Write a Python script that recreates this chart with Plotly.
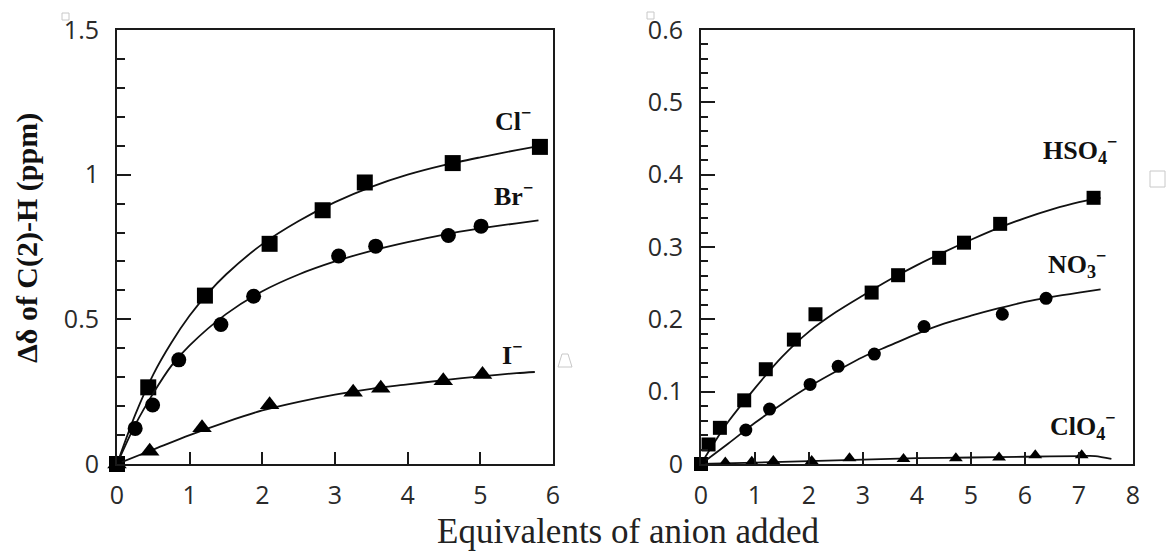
import plotly.graph_objects as go

W, H = 1166, 553

# ---------------- data: left panel (halides) ----------------
cl_x = [0, 0.43, 1.21, 2.10, 2.83, 3.41, 4.62, 5.82]
cl_y = [0, 0.265, 0.582, 0.761, 0.877, 0.973, 1.040, 1.096]
br_x = [0, 0.25, 0.49, 0.85, 1.43, 1.88, 3.05, 3.56, 4.56, 5.01]
br_y = [0, 0.123, 0.204, 0.360, 0.482, 0.580, 0.719, 0.753, 0.790, 0.822]
i_x = [0, 0.45, 1.17, 2.10, 3.25, 3.63, 4.49, 5.03]
i_y = [0, 0.044, 0.125, 0.205, 0.248, 0.262, 0.288, 0.309]

# fitted curves
cl_fit_x = [0, 0.25, 0.5, 0.75, 1.0, 1.25, 1.5, 2.0, 2.5, 3.0, 3.5, 4.0, 4.5, 5.0, 5.5, 5.8]
cl_fit_y = [0, 0.17, 0.31, 0.42, 0.513, 0.59, 0.655, 0.76, 0.84, 0.905, 0.958, 1.0, 1.033, 1.06, 1.085, 1.099]
br_fit_x = [0, 0.25, 0.5, 0.75, 1.0, 1.5, 2.0, 2.5, 3.0, 3.5, 4.0, 4.5, 5.0, 5.5, 5.8]
br_fit_y = [0, 0.135, 0.245, 0.34, 0.41, 0.518, 0.597, 0.655, 0.70, 0.737, 0.767, 0.793, 0.814, 0.832, 0.842]
i_fit_x = [0, 0.5, 1.0, 1.5, 2.0, 2.5, 3.0, 3.5, 4.0, 4.5, 5.0, 5.5, 5.75]
i_fit_y = [0, 0.05, 0.10, 0.145, 0.185, 0.215, 0.24, 0.26, 0.275, 0.29, 0.303, 0.314, 0.318]

# ---------------- data: right panel (oxoanions) ----------------
hso4_x = [0, 0.14, 0.35, 0.80, 1.20, 1.72, 2.12, 3.16, 3.65, 4.41, 4.87, 5.54, 7.27]
hso4_y = [0, 0.027, 0.050, 0.088, 0.131, 0.172, 0.207, 0.237, 0.261, 0.285, 0.306, 0.332, 0.368]
no3_x = [0, 0.83, 1.27, 2.02, 2.54, 3.21, 4.13, 5.58, 6.39]
no3_y = [0, 0.047, 0.076, 0.110, 0.135, 0.152, 0.190, 0.207, 0.229]
clo4_x = [0, 0.45, 0.94, 1.34, 2.05, 2.75, 3.75, 4.72, 5.52, 6.19, 7.05]
clo4_y = [0, 0.002, 0.003, 0.004, 0.004, 0.008, 0.007, 0.008, 0.009, 0.012, 0.012]

hso4_fit_x = [0, 0.25, 0.5, 1.0, 1.5, 2.0, 2.5, 3.0, 3.5, 4.0, 4.5, 5.0, 5.5, 6.0, 6.5, 7.0, 7.4]
hso4_fit_y = [0, 0.03, 0.058, 0.105, 0.148, 0.183, 0.21, 0.233, 0.255, 0.275, 0.293, 0.31, 0.326, 0.34, 0.352, 0.362, 0.368]
no3_fit_x = [0, 0.5, 1.0, 1.5, 2.0, 2.5, 3.0, 3.5, 4.0, 4.5, 5.0, 5.5, 6.0, 6.5, 7.0, 7.4]
no3_fit_y = [0, 0.028, 0.057, 0.083, 0.107, 0.128, 0.148, 0.164, 0.18, 0.194, 0.205, 0.215, 0.224, 0.231, 0.237, 0.2415]
clo4_fit_x = [0, 1, 2, 3, 4, 5, 6, 7, 7.3, 7.6]
clo4_fit_y = [0, 0.002, 0.004, 0.006, 0.008, 0.009, 0.010, 0.011, 0.011, 0.007]

left_yticks = [0, 0.5, 1, 1.5]
left_yticklabels = ["0", "0.5", "1", "1.5"]
right_yticks = [0, 0.1, 0.2, 0.3, 0.4, 0.5, 0.6]
right_yticklabels = ["0", "0.1", "0.2", "0.3", "0.4", "0.5", "0.6"]

labels_left = ["Cl<sup>−</sup>", "Br<sup>−</sup>", "I<sup>−</sup>"]
labels_right = ["HSO<sub>4</sub><sup>−</sup>", "NO<sub>3</sub><sup>−</sup>", "ClO<sub>4</sub><sup>−</sup>"]

x_title = "Equivalents of anion added"
y_title = "Δδ of C(2)-H (ppm)"

# ---------------- figure ----------------
fig = go.Figure()
LINE = dict(color="#111111", width=1.8)

def add_series(fx, fy, px, py, symbol, size, xa, ya):
    fig.add_trace(go.Scatter(x=fx, y=fy, mode="lines", line=dict(LINE, shape="spline", smoothing=0.8),
                             xaxis=xa, yaxis=ya, showlegend=False, hoverinfo="skip", cliponaxis=False))
    fig.add_trace(go.Scatter(x=px, y=py, mode="markers",
                             marker=dict(symbol=symbol, size=size, color="#000000", line=dict(width=0)),
                             xaxis=xa, yaxis=ya, showlegend=False, cliponaxis=False))

add_series(cl_fit_x, cl_fit_y, cl_x, cl_y, "square", 16, "x", "y")
add_series(br_fit_x, br_fit_y, br_x, br_y, "circle", 15, "x", "y")
add_series(i_fit_x, i_fit_y, i_x, i_y, "triangle-up", 17, "x", "y")
add_series(hso4_fit_x, hso4_fit_y, hso4_x, hso4_y, "square", 14, "x2", "y2")
add_series(no3_fit_x, no3_fit_y, no3_x, no3_y, "circle", 13, "x2", "y2")
add_series(clo4_fit_x, clo4_fit_y, clo4_x, clo4_y, "triangle-up", 12, "x2", "y2")

def px2paper_x(px):
    return px / W

def px2paper_y(py):
    return 1 - py / H

TICKFONT = dict(family="Open Sans", size=25, color="#2a2a2a")
y_dom = [px2paper_y(464), px2paper_y(30)]

common_axis = dict(showline=True, linecolor="#1a1a1a", linewidth=2, mirror=True, automargin=False,
                   showgrid=False, zeroline=False, ticks="inside", tickcolor="#1a1a1a",
                   tickwidth=1.5, tickfont=TICKFONT)

fig.update_layout(
    width=W, height=H,
    margin=dict(l=0, r=0, t=0, b=0),
    paper_bgcolor="white", plot_bgcolor="white",
    xaxis=dict(common_axis, domain=[px2paper_x(117), px2paper_x(553)], range=[0, 6],
               tickvals=[0, 1, 2, 3, 4, 5, 6], ticklen=12, anchor="y", ticklabelstandoff=8),
    yaxis=dict(common_axis, domain=y_dom, range=[0, 1.5], tickvals=left_yticks,
               ticktext=left_yticklabels, ticklen=14, anchor="x", ticklabelstandoff=11,
               minor=dict(dtick=0.1, ticks="inside", ticklen=8, tickcolor="#1a1a1a", tickwidth=1.5)),
    xaxis2=dict(common_axis, domain=[px2paper_x(701), px2paper_x(1133)], range=[0, 8],
                tickvals=[0, 1, 2, 3, 4, 5, 6, 7, 8], ticklen=12, anchor="y2", ticklabelstandoff=8),
    yaxis2=dict(common_axis, domain=y_dom, range=[0, 0.6], tickvals=right_yticks,
                ticktext=right_yticklabels, ticklen=14, anchor="x2", ticklabelstandoff=11,
                minor=dict(dtick=0.02, ticks="inside", ticklen=7, tickcolor="#1a1a1a", tickwidth=1.5)),
)

LABFONT = dict(family="Liberation Serif", size=26, color="#111111")
ann = []
for txt, (cx, cy) in zip(labels_left, [(513, 119), (513, 194), (512, 353)]):
    ann.append(dict(text="<b>" + txt + "</b>", x=px2paper_x(cx), y=px2paper_y(cy), xref="paper", yref="paper",
                    showarrow=False, font=LABFONT, xanchor="center", yanchor="middle"))
for txt, (cx, cy) in zip(labels_right, [(1080, 150), (1077, 264), (1083, 426)]):
    ann.append(dict(text="<b>" + txt + "</b>", x=px2paper_x(cx), y=px2paper_y(cy), xref="paper", yref="paper",
                    showarrow=False, font=LABFONT, xanchor="center", yanchor="middle"))
ann.append(dict(text=x_title, x=px2paper_x(628), y=px2paper_y(531), xref="paper", yref="paper",
                showarrow=False, font=dict(family="Liberation Serif", size=35, color="#222222"),
                xanchor="center", yanchor="middle"))
ann.append(dict(text="<b>" + y_title + "</b>", x=px2paper_x(27), y=px2paper_y(238), xref="paper", yref="paper",
                showarrow=False, textangle=-90, font=dict(family="Liberation Serif", size=30, color="#111111"),
                xanchor="center", yanchor="middle"))
fig.update_layout(annotations=ann)

# faint glyph-placeholder boxes seen in the reference
GREY = dict(color="#c8c8c8", width=1)
shapes = [
    dict(type="rect", xref="paper", yref="paper", x0=px2paper_x(62), x1=px2paper_x(69),
         y0=px2paper_y(20), y1=px2paper_y(13), line=GREY),
    dict(type="rect", xref="paper", yref="paper", x0=px2paper_x(647), x1=px2paper_x(654),
         y0=px2paper_y(19), y1=px2paper_y(12), line=GREY),
    dict(type="rect", xref="paper", yref="paper", x0=px2paper_x(1150), x1=px2paper_x(1165),
         y0=px2paper_y(187), y1=px2paper_y(171), line=GREY),
    dict(type="path", xref="paper", yref="paper",
         path="M {} {} L {} {} L {} {} L {} {} Z".format(
             px2paper_x(558), px2paper_y(367), px2paper_x(562), px2paper_y(354),
             px2paper_x(568), px2paper_y(354), px2paper_x(572), px2paper_y(367)),
         line=GREY),
]
fig.update_layout(shapes=shapes)

fig.write_html("out.html")
